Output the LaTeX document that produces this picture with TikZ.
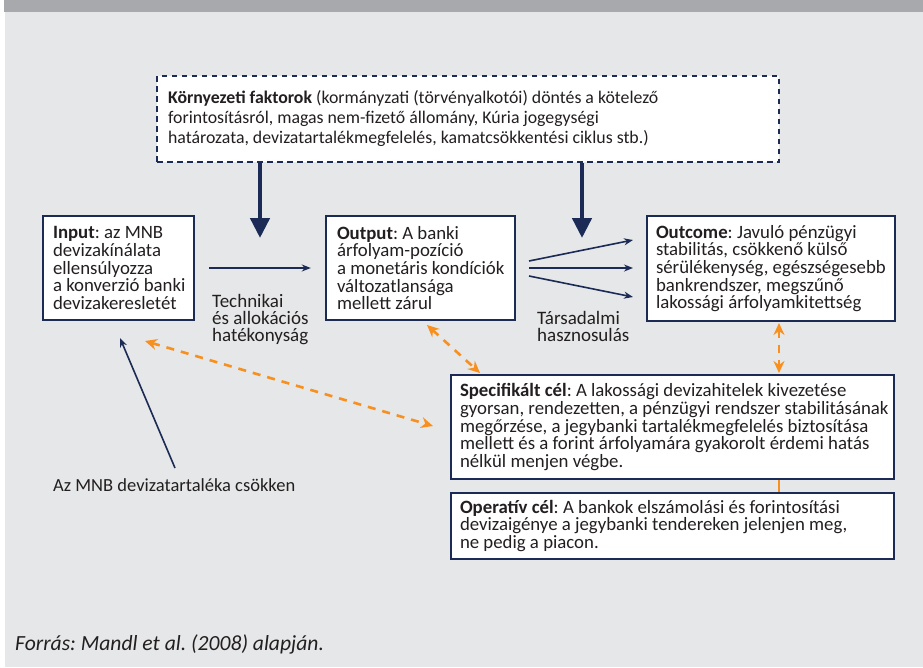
\documentclass[tikz,border=0pt]{standalone}
\usepackage{fontspec}
\setmainfont{Carlito}
\usetikzlibrary{arrows.meta,calc}
\frenchspacing
\definecolor{navy}{HTML}{1C2B55}
\definecolor{orng}{HTML}{F7901E}
\definecolor{bgc}{HTML}{E6E7E8}
\definecolor{barc}{HTML}{A7A9AC}
\definecolor{txtc}{HTML}{231F20}
\tikzset{
  boxst/.style={draw=navy, line width=2.4pt, fill=white, inner sep=0pt},
  envbox/.style={draw=navy, line width=2.2pt, dash pattern=on 5.5pt off 4.5pt, fill=white, inner sep=0pt},
  bodytxt/.style={align=left, inner sep=0pt, anchor=west, text=txtc, font=\fontsize{18.8}{17.7}\selectfont},
  envtxt/.style={align=left, inner sep=0pt, anchor=west, text=txtc, font=\fontsize{17.8}{20}\selectfont},
  sidetxt/.style={align=left, inner sep=0pt, anchor=north west, text=txtc, font=\fontsize{19}{17.2}\selectfont},
  bigarrow/.style={draw=navy, line width=4.5pt, -{Triangle[length=20pt,width=19pt]}},
  thinarrow/.style={draw=navy, line width=1.6pt, -{Stealth[length=9pt,width=7pt]}},
  ordash/.style={draw=orng, line width=2.6pt, dash pattern=on 8pt off 7pt, {Stealth[length=12pt,width=11pt]}-{Stealth[length=12pt,width=11pt]}},
}
\begin{document}
\begin{tikzpicture}[x=1pt,y=-1pt]
\useasboundingbox (0,0) rectangle (923,667);
\fill[white] (0,0) rectangle (923,667);
\fill[bgc] (5,12) rectangle (923,667);
\fill[barc] (4,0) rectangle (923,12);

% boxes
\node[envbox, minimum width=622pt, minimum height=86pt] (env) at (468,119) {};
\node[envtxt] (envt) at ($(env.west)+(12,0)$) {\textbf{Környezeti faktorok} (kormányzati (törvényalkotói) döntés a kötelező\\forintosításról, magas nem-fizető állomány, Kúria jogegységi\\határozata, devizatartalékmegfelelés, kamatcsökkentési ciklus stb.)};

\node[boxst, minimum width=151pt, minimum height=104pt] (input) at (118.5,268) {};
\node[bodytxt] (inputt) at ($(input.west)+(11,0)$) {\textbf{Input}: az MNB\\devizakínálata\\ellensúlyozza\\a konverzió banki\\devizakeresletét};

\node[boxst, minimum width=189pt, minimum height=104pt] (output) at (420.5,268) {};
\node[bodytxt] (outputt) at ($(output.west)+(12,0)$) {\textbf{Output}: A banki\\árfolyam-pozíció\\a monetáris kondíciók\\változatlansága\\mellett zárul};

\node[boxst, minimum width=248pt, minimum height=105pt] (outcome) at (771,268.5) {};
\node[bodytxt] (outcomet) at ($(outcome.west)+(10,0)$) {\textbf{Outcome}: Javuló pénzügyi\\stabilitás, csökkenő külső\\sérülékenység, egészségesebb\\bankrendszer, megszűnő\\lakossági árfolyamkitettség};

\node[boxst, minimum width=443pt, minimum height=104pt] (spec) at (672.5,427) {};
\node[bodytxt] (spect) at ($(spec.west)+(10,0)$) {\textbf{Specifikált cél}: A lakossági devizahitelek kivezetése\\gyorsan, rendezetten, a pénzügyi rendszer stabilitásának\\megőrzése, a jegybanki tartalékmegfelelés biztosítása\\mellett és a forint árfolyamára gyakorolt érdemi hatás\\nélkül menjen végbe.};

\node[boxst, minimum width=443pt, minimum height=66pt] (oper) at (672.5,526) {};
\node[bodytxt] (opert) at ($(oper.west)+(10,0)$) {\textbf{Operatív cél}: A bankok elszámolási és forintosítási\\devizaigénye a jegybanki tendereken jelenjen meg,\\ne pedig a piacon.};

% labels
\node[sidetxt] (techn) at (212,294) {Technikai\\és allokációs\\hatékonyság};
\node[sidetxt] (tars) at (537,311) {Társadalmi\\hasznosulás};
\node[inner sep=0pt, anchor=base west, text=txtc, font=\fontsize{18.5}{20}\selectfont] (mnb) at (53,491) {Az MNB devizatartaléka csökken};
\node[inner sep=0pt, anchor=base west, text=txtc, font=\fontsize{21.6}{22}\selectfont\itshape] (forras) at (15,650) {Forrás: Mandl et al. (2008) alapján.};

% coordinates
\coordinate (t1) at (260,238);
\coordinate (t2) at (582,238);
\coordinate (ox) at (779,0);
\coordinate (f0) at (529,261);
\coordinate (f1) at (529,268);
\coordinate (f2) at (529,276);
\coordinate (g0) at (633,240);
\coordinate (g1) at (633,268);
\coordinate (g2) at (633,297);
\coordinate (m1) at (175,468);
\coordinate (m2) at (120,338);
\coordinate (o1a) at (145,341);
\coordinate (o1b) at (433,426);
\coordinate (o2a) at (427,325);
\coordinate (o2b) at (480,373);
\coordinate (o3a) at (779,323);
\coordinate (o3b) at (779,373);

% connectors
\draw[bigarrow] (env.south -| t1) -- (t1);
\draw[bigarrow] (env.south -| t2) -- (t2);
\draw[thinarrow, shorten <=14pt, shorten >=14pt] (input) -- (output);
\draw[thinarrow] (f0) -- (g0);
\draw[thinarrow] (f1) -- (g1);
\draw[thinarrow] (f2) -- (g2);
\draw[thinarrow] (m1) -- (m2);
\draw[ordash] (o1a) -- (o1b);
\draw[ordash] (o2a) -- (o2b);
\draw[ordash] (o3a) -- (o3b);
\draw[orng, line width=2.6pt] (spec.south -| ox) -- (oper.north -| ox);
\end{tikzpicture}
\end{document}
